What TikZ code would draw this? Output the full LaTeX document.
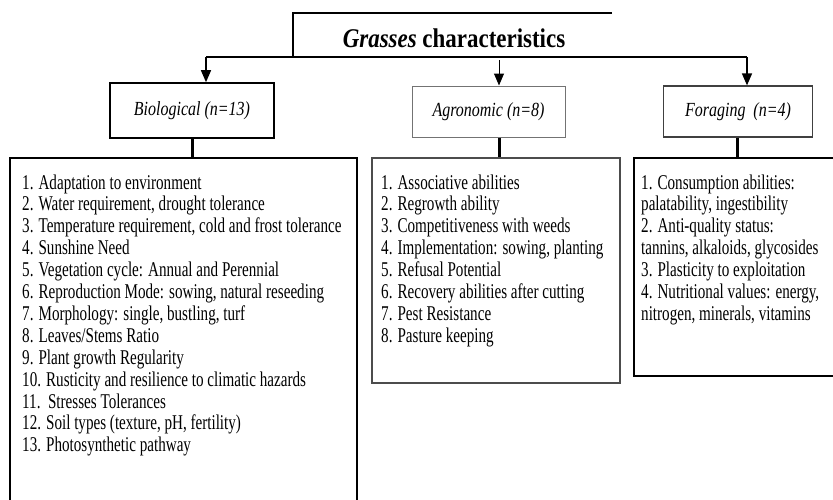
\documentclass[tikz,border=0pt]{standalone}
\usepackage{fontspec}
\setmainfont{Liberation Serif}
\newfontfamily\itemfont{Liberation Serif}[FakeStretch=0.72]
\newfontfamily\headfont{Liberation Serif}[FakeStretch=0.8]
\newfontfamily\titlefont{Liberation Serif}[FakeStretch=0.85]
\usetikzlibrary{arrows.meta}
\begin{document}
\begin{tikzpicture}[x=1pt,y=-1pt,
  hdr/.style={draw, rectangle, inner sep=0pt, font=\headfont\itshape\fontsize{20}{22}\selectfont},
  lst/.style={draw, rectangle, inner sep=0pt},
  itm/.style={anchor=base west, inner sep=0pt, font=\itemfont\fontsize{21}{22}\selectfont},
  arr/.style={line width=1.4pt, -{Triangle[length=12pt,width=10pt]}},
  link/.style={line width=3pt}]
\useasboundingbox (0,0) rectangle (833,499);
% title frame
\node[font=\titlefont\bfseries\fontsize{27}{30}\selectfont, inner sep=0pt] (title) at (454,38) {\textit{Grasses} characteristics};
\coordinate (tl) at (293,13);
\coordinate (tr) at (612,13);
\coordinate (hl) at (206,57);
\coordinate (hr) at (747,57);
\coordinate (hm) at (499,60);
\draw[line width=1.2pt] (tr) -- (tl) -- (tl |- hl);
\draw[line width=1.4pt] (hl) -- (hr);
% header boxes
\node[hdr, line width=1.6pt, minimum width=164pt, minimum height=55pt] (bio) at (192,110.5) {Biological (n=13)};
\node[hdr, draw=black!55, line width=1pt, minimum width=153pt, minimum height=51pt] (agro) at (488.5,111.5) {Agronomic (n=8)};
\node[hdr, draw=black!75, line width=1.2pt, minimum width=149pt, minimum height=51pt] (forg) at (738,111.5) {Foraging\ \ (n=4)};
% arrows
\draw[arr] (hl) -- (hl |- bio.north);
\draw[arr, line width=1pt] (hm) -- (hm |- agro.north);
\draw[arr] (hr) -- (hr |- forg.north);
% lists
\node[lst, line width=1.4pt, minimum width=347pt, minimum height=372pt] (biol) at (183.5,344) {};
\node[lst, draw=black!70, line width=1.2pt, minimum width=248pt, minimum height=225pt] (agrl) at (496,270.5) {};
\node[lst, line width=1.4pt, minimum width=215pt, minimum height=218pt] (forl) at (741.5,267) {};
% links
\coordinate (ca) at (499,0);
\coordinate (cf) at (737,0);
\draw[link] (bio.south) -- (biol.north -| bio.south);
\draw[link] (agro.south -| ca) -- (agrl.north -| ca);
\draw[link] (forg.south -| cf) -- (forl.north -| cf);
% items
\foreach \t [count=\i] in {
  {1. Adaptation to environment},
  {2. Water requirement, drought tolerance},
  {3. Temperature requirement, cold and frost tolerance},
  {4. Sunshine Need},
  {5. Vegetation cycle: Annual and Perennial},
  {6. Reproduction Mode: sowing, natural reseeding},
  {7. Morphology: single, bustling, turf},
  {8. Leaves/Stems Ratio},
  {9. Plant growth Regularity},
  {10. Rusticity and resilience to climatic hazards},
  {11.\ \ Stresses Tolerances},
  {12. Soil types (texture, pH, fertility)},
  {13. Photosynthetic pathway}}
  \node[itm] (b\i) at (22,{189+21.9*(\i-1)}) {\t};
\foreach \t [count=\i] in {
  {1. Associative abilities},
  {2. Regrowth ability},
  {3. Competitiveness with weeds},
  {4. Implementation: sowing, planting},
  {5. Refusal Potential},
  {6. Recovery abilities after cutting},
  {7. Pest Resistance},
  {8. Pasture keeping}}
  \node[itm] (a\i) at (381,{189+21.9*(\i-1)}) {\t};
\foreach \t [count=\i] in {
  {1. Consumption abilities:},
  {palatability, ingestibility},
  {2. Anti-quality status:},
  {tannins, alkaloids, glycosides},
  {3. Plasticity to exploitation},
  {4. Nutritional values: energy,},
  {nitrogen, minerals, vitamins}}
  \node[itm] (f\i) at (641,{189+21.9*(\i-1)}) {\t};
\end{tikzpicture}
\end{document}
